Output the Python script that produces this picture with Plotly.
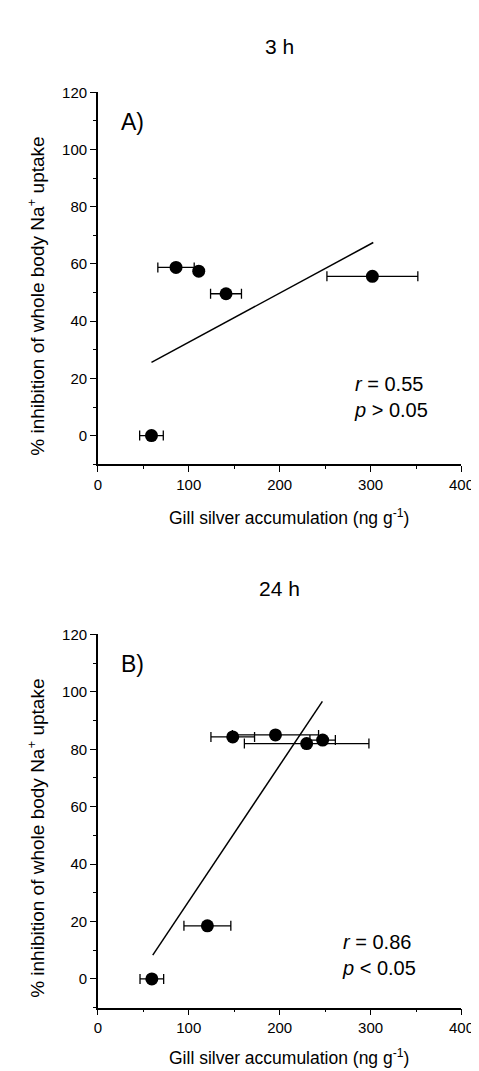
import plotly.graph_objects as go

# ---- data: panel A (3 h) ----
gill_3h = [59, 86, 111, 141, 302]
inhib_3h = [0, 58.8, 57.5, 49.6, 55.7]
gill_3h_err = [13, 20, 0, 17, 50]
fit_3h_x = [59, 303]
fit_3h_y = [25.6, 67.5]

# ---- data: panel B (24 h) ----
gill_24h = [59.4, 120.5, 148.4, 195.4, 229.7, 247.3]
inhib_24h = [0, 18.5, 84.3, 85.0, 82.0, 83.2]
gill_24h_err = [13, 25.8, 24, 47.4, 68.5, 14]
fit_24h_x = [60.4, 247]
fit_24h_y = [8.3, 96.7]

x_ticks = [0, 100, 200, 300, 400]
y_ticks = [0, 20, 40, 60, 80, 100, 120]

W, H = 479, 1071
FONT = "Liberation Sans, Arial, sans-serif"

def px_x(p):
    return p / W

def px_y(p):
    return 1 - p / H

fig = go.Figure()

panels = [
    ("x", "y", gill_3h, inhib_3h, gill_3h_err, fit_3h_x, fit_3h_y),
    ("x2", "y2", gill_24h, inhib_24h, gill_24h_err, fit_24h_x, fit_24h_y),
]
for xa, ya, gx, gy, ge, fx, fy in panels:
    fig.add_trace(go.Scatter(
        x=fx, y=fy, mode="lines", xaxis=xa, yaxis=ya,
        line=dict(color="black", width=1.5), showlegend=False, hoverinfo="skip"))
    fig.add_trace(go.Scatter(
        x=gx, y=gy, mode="markers", xaxis=xa, yaxis=ya,
        marker=dict(color="black", size=13),
        error_x=dict(type="data", array=ge, visible=True, color="black",
                     thickness=1.3, width=5),
        showlegend=False))

# plot areas in pixels
ax_left, ax_right = 89, 466
A_top, A_bot = 76, 451
B_top, B_bot = 622.7, 999

xaxis_common = dict(
    range=[0, 400], tickvals=x_ticks, ticks="outside", ticklen=6, tickwidth=1.3,
    tickcolor="black", showline=True, linecolor="black", linewidth=1.5,
    showgrid=False, zeroline=False,
    minor=dict(dtick=50, tick0=0, ticks="outside", ticklen=3, tickcolor="black", showgrid=False),
    tickfont=dict(size=15, color="black", family=FONT),
)
yaxis_common = dict(
    range=[-10, 120], tickvals=y_ticks, ticks="outside", ticklen=6, tickwidth=1.3,
    tickcolor="black", showline=True, linecolor="black", linewidth=1.5,
    showgrid=False, zeroline=False,
    minor=dict(dtick=10, tick0=0, ticks="outside", ticklen=3, tickcolor="black", showgrid=False),
    tickfont=dict(size=15, color="black", family=FONT),
)

fig.update_layout(
    width=W, height=H, autosize=False,
    margin=dict(l=0, r=0, t=0, b=0),
    paper_bgcolor="white", plot_bgcolor="white",
    font=dict(family=FONT, color="black"),
    xaxis=dict(domain=[px_x(ax_left), px_x(ax_right)], anchor="y", **xaxis_common),
    yaxis=dict(domain=[px_y(A_bot), px_y(A_top)], anchor="x", **yaxis_common),
    xaxis2=dict(domain=[px_x(ax_left), px_x(ax_right)], anchor="y2", **xaxis_common),
    yaxis2=dict(domain=[px_y(B_bot), px_y(B_top)], anchor="x2", **yaxis_common),
)

ytitle = "% inhibition of whole body Na<sup>+</sup> uptake"
xtitle = "Gill silver accumulation (ng g<sup>-1</sup>)"
offset = B_top - A_top

anns = []
for i, (ttl, letter, stat, sx, sy, xty) in enumerate([
        ("3 h", "A)", "<i>r</i> = 0.55<br><i>p</i> > 0.05", 352, 383, 504),
        ("24 h", "B)", "<i>r</i> = 0.86<br><i>p</i> < 0.05", 340, 946, 1049)]):
    dy = i * offset
    anns.append(dict(text=ttl, x=px_x((ax_left + ax_right) / 2), y=px_y(30 + dy),
                     xref="paper", yref="paper", showarrow=False,
                     font=dict(size=21, family=FONT), xanchor="center", yanchor="middle"))
    anns.append(dict(text=letter, x=px_x(111), y=px_y(106 + dy),
                     xref="paper", yref="paper", showarrow=False,
                     font=dict(size=23, family=FONT), xanchor="left", yanchor="middle"))
    anns.append(dict(text=ytitle, x=px_x(25), y=px_y(282 + dy), textangle=-90,
                     xref="paper", yref="paper", showarrow=False,
                     font=dict(size=19, family=FONT), xanchor="center", yanchor="middle"))
    anns.append(dict(text=xtitle, x=px_x((ax_left + ax_right) / 2 + 10), y=px_y(xty),
                     xref="paper", yref="paper", showarrow=False,
                     font=dict(size=17.5, family=FONT), xanchor="center", yanchor="middle"))
    anns.append(dict(text=stat, x=px_x(sx), y=px_y(sy), align="left",
                     xref="paper", yref="paper", showarrow=False,
                     font=dict(size=20, family=FONT), xanchor="left", yanchor="middle"))

fig.update_layout(annotations=anns)
fig.write_html("out.html")
